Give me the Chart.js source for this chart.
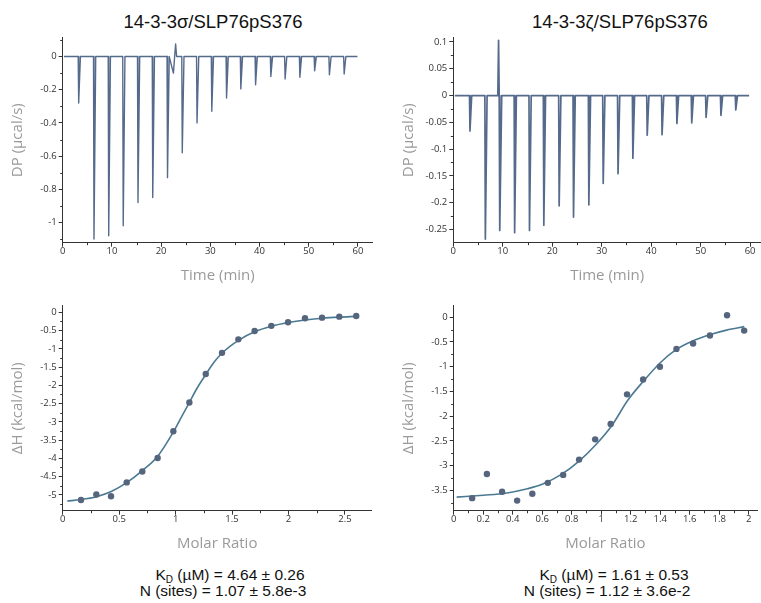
<!DOCTYPE html>
<html>
<head>
<meta charset="utf-8">
<script src="https://cdn.jsdelivr.net/npm/chart.js@4.4.1/dist/chart.umd.min.js"></script>
<style>
  body { margin: 0; background: #fff; }
  #page { position: relative; width: 761px; height: 603px; overflow: hidden; background: #fff; }
  canvas { position: absolute; }
  .title { position: absolute; top: 12px; font: 18.5px "Liberation Sans", Arial, sans-serif; line-height: 20px; color: #111; white-space: nowrap; transform: translateX(-50%); }
  .fit { position: absolute; font: 15.5px "Liberation Sans", Arial, sans-serif; line-height: 16px; color: #111; white-space: nowrap; transform: translateX(-50%); }
  .fit .sub { font-size: 10px; position: relative; top: 3px; }
</style>
</head>
<body>
<div id="page">
  <div class="title" style="left:213px">14-3-3σ/SLP76pS376</div>
  <div class="title" style="left:620px">14-3-3ζ/SLP76pS376</div>

  <canvas id="dpSigma" width="380" height="260" style="left:0;top:30px"></canvas>
  <canvas id="dpZeta" width="370" height="260" style="left:391px;top:30px"></canvas>
  <canvas id="dhSigma" width="380" height="260" style="left:0;top:298px"></canvas>
  <canvas id="dhZeta" width="370" height="260" style="left:391px;top:298px"></canvas>

  <div class="fit" style="left:230px;top:567px">K<span class="sub">D</span> (µM) = 4.64 ± 0.26</div>
  <div class="fit" style="left:223px;top:583px">N (sites) = 1.07 ± 5.8e-3</div>
  <div class="fit" style="left:614px;top:567px">K<span class="sub">D</span> (µM) = 1.61 ± 0.53</div>
  <div class="fit" style="left:607px;top:583px">N (sites) = 1.12 ± 3.6e-2</div>
</div>

<script>
// raw thermograms: injection times (min) and peak heights (µcal/s)
const sigmaInjTime = [3.25, 6.36, 9.35, 12.3, 15.3, 18.3, 21.3, 24.3, 27.3, 30.3, 33.3, 36.2, 39.2, 42.3, 45.2, 48.2, 51.2, 54.2, 57.2];
const sigmaInjDP = [-0.28, -1.10, -1.08, -1.02, -0.88, -0.85, -0.73, -0.58, -0.40, -0.33, -0.25, -0.195, -0.17, -0.12, -0.135, -0.125, -0.086, -0.11, -0.105];
const sigmaGlitch = [[22.5, -0.10], [22.75, 0], [22.95, 0.076], [23.15, 0]];
const sigmaRun = [0.25, 59.9];

const zetaInjTime = [3.37, 6.48, 9.44, 12.4, 15.4, 18.3, 21.4, 24.3, 27.4, 30.3, 33.3, 36.3, 39.2, 42.2, 45.2, 48.2, 51.1, 54.1, 57.1];
const zetaInjDP = [-0.066, -0.268, -0.252, -0.256, -0.252, -0.242, -0.206, -0.227, -0.204, -0.164, -0.146, -0.117, -0.074, -0.073, -0.052, -0.051, -0.041, -0.037, -0.027];
const zetaGlitch = [[9.0, 0], [9.15, 0.103], [9.28, 0]];
const zetaRun = [0.3, 59.8];

// integrated heats
const sigmaRatio = [0.162, 0.298, 0.428, 0.567, 0.705, 0.841, 0.980, 1.122, 1.267, 1.411, 1.556, 1.700, 1.848, 1.996, 2.146, 2.297, 2.450, 2.600];
const sigmaDH = [-5.14, -4.99, -5.04, -4.66, -4.36, -3.99, -3.26, -2.47, -1.69, -1.11, -0.74, -0.51, -0.37, -0.27, -0.16, -0.145, -0.118, -0.10];
const sigmaFitRatio = [0.04, 0.16, 0.3, 0.43, 0.57, 0.70, 0.84, 0.98, 1.05, 1.12, 1.19, 1.27, 1.34, 1.41, 1.56, 1.70, 1.85, 2.0, 2.15, 2.3, 2.45, 2.6];
const sigmaFitDH = [-5.17, -5.13, -5.05, -4.91, -4.66, -4.35, -3.95, -3.28, -2.88, -2.48, -2.08, -1.69, -1.37, -1.12, -0.76, -0.53, -0.38, -0.28, -0.21, -0.16, -0.13, -0.11];

const zetaRatio = [0.125, 0.225, 0.328, 0.430, 0.533, 0.638, 0.742, 0.850, 0.959, 1.064, 1.175, 1.284, 1.398, 1.510, 1.623, 1.737, 1.853, 1.969];
const zetaDH = [-3.66, -3.17, -3.53, -3.71, -3.57, -3.35, -3.19, -2.88, -2.47, -2.16, -1.56, -1.26, -1.00, -0.64, -0.53, -0.37, 0.04, -0.27];
const zetaFitRatio = [0.02, 0.2, 0.35, 0.5, 0.6, 0.73, 0.85, 0.96, 1.07, 1.18, 1.29, 1.40, 1.51, 1.62, 1.74, 1.85, 1.97];
const zetaFitDH = [-3.64, -3.60, -3.56, -3.47, -3.38, -3.18, -2.91, -2.59, -2.20, -1.68, -1.28, -0.92, -0.65, -0.48, -0.35, -0.26, -0.19];

// ticks
const timeTicks = [0, 10, 20, 30, 40, 50, 60];
const timeMinor = [5, 15, 25, 35, 45, 55];
const dpSigmaTicks = [0, -0.2, -0.4, -0.6, -0.8, -1];
const dpSigmaMinor = [0.1, -0.1, -0.3, -0.5, -0.7, -0.9, -1.1];
const dpZetaTicks = [0.1, 0.05, 0, -0.05, -0.1, -0.15, -0.2, -0.25];
const dpZetaMinor = [0.075, 0.025, -0.025, -0.075, -0.125, -0.175, -0.225];
const ratioSigmaTicks = [0, 0.5, 1, 1.5, 2, 2.5];
const ratioSigmaMinor = [0.25, 0.75, 1.25, 1.75, 2.25];
const ratioZetaTicks = [0, 0.2, 0.4, 0.6, 0.8, 1, 1.2, 1.4, 1.6, 1.8, 2];
const ratioZetaMinor = [0.1, 0.3, 0.5, 0.7, 0.9, 1.1, 1.3, 1.5, 1.7, 1.9];
const dhSigmaTicks = [0, -0.5, -1, -1.5, -2, -2.5, -3, -3.5, -4, -4.5, -5];
const dhSigmaMinor = [-0.25, -0.75, -1.25, -1.75, -2.25, -2.75, -3.25, -3.75, -4.25, -4.75, -5.25];
const dhZetaTicks = [0, -0.5, -1, -1.5, -2, -2.5, -3, -3.5];
const dhZetaMinor = [-0.25, -0.75, -1.25, -1.75, -2.25, -2.75, -3.25, -3.75];

const TRACE = '#566b8c';
const FIT = '#4a7a93';
const DOT = '#56657e';
const TICKFONT = { family: '"Open Sans", "Noto Sans", sans-serif', size: 9.5 };
const AXFONT = { family: '"Open Sans", "Noto Sans", sans-serif', size: 15 };

// trace = flat baseline with a sharp spike at every injection
function thermogram(run, times, dps, glitch) {
  const pts = [{ x: run[0], y: 0 }, { x: run[1], y: 0 }];
  times.forEach((t, i) => {
    pts.push({ x: t - 0.1, y: 0 }, { x: t, y: dps[i] }, { x: t + 0.35, y: 0 });
  });
  glitch.forEach(g => pts.push({ x: g[0], y: g[1] }));
  return pts.sort((a, b) => a.x - b.x);
}

function pairs(xs, ys) {
  return xs.map((x, i) => ({ x: x, y: ys[i] }));
}

const minorTicks = {
  id: 'minorTicks',
  afterDraw(chart, args, opts) {
    const ctx = chart.ctx;
    const xs = chart.scales.x, ys = chart.scales.y;
    ctx.save();
    ctx.strokeStyle = '#333';
    ctx.lineWidth = 1;
    ctx.beginPath();
    (opts.x || []).forEach(v => {
      const p = Math.round(xs.getPixelForValue(v)) + 0.5;
      ctx.moveTo(p, xs.top);
      ctx.lineTo(p, xs.top + 2.5);
    });
    (opts.y || []).forEach(v => {
      const p = Math.round(ys.getPixelForValue(v)) + 0.5;
      ctx.moveTo(ys.right, p);
      ctx.lineTo(ys.right - 2.5, p);
    });
    ctx.stroke();
    ctx.restore();
  }
};

function axis(min, max, majors, title) {
  return {
    type: 'linear',
    min: min,
    max: max,
    afterBuildTicks: s => { s.ticks = majors.map(v => ({ value: v })); },
    ticks: { autoSkip: false, maxRotation: 0, color: '#333', font: TICKFONT, callback: v => String(v) },
    grid: { drawOnChartArea: false, drawTicks: true, tickLength: 4, tickColor: '#333', lineWidth: 1 },
    border: { display: true, color: '#333', width: 1 },
    title: { display: true, text: title, color: '#9a9a9a', font: AXFONT }
  };
}

function makeChart(id, datasets, x, y, minor, padRight, yWidth) {
  x.afterFit = s => { s.height = 47.3; };
  x.ticks.padding = -1;
  x.title.padding = { top: 0, bottom: 5 };
  y.afterFit = s => { s.width = yWidth; };
  y.ticks.padding = 2;
  y.title.padding = { top: 9, bottom: 0 };
  return new Chart(document.getElementById(id), {
    type: 'line',
    data: { datasets: datasets },
    options: {
      responsive: false,
      animation: false,
      layout: { padding: { top: 6, right: padRight, left: 0, bottom: 0 } },
      scales: { x: x, y: y },
      plugins: { legend: { display: false }, tooltip: { enabled: false }, minorTicks: minor }
    },
    plugins: [minorTicks]
  });
}

makeChart('dpSigma', [{
    data: thermogram(sigmaRun, sigmaInjTime, sigmaInjDP, sigmaGlitch),
    borderColor: TRACE, borderWidth: 1.4, borderJoinStyle: 'round', pointRadius: 0, tension: 0
  }],
  axis(0, 63, timeTicks, 'Time (min)'),
  axis(-1.122, 0.1136, dpSigmaTicks, 'DP (µcal/s)'),
  { x: timeMinor, y: dpSigmaMinor }, 7.3, 62.7);

makeChart('dpZeta', [{
    data: thermogram(zetaRun, zetaInjTime, zetaInjDP, zetaGlitch),
    borderColor: TRACE, borderWidth: 1.7, borderJoinStyle: 'round', pointRadius: 0, tension: 0
  }],
  axis(0, 62.2, timeTicks, 'Time (min)'),
  axis(-0.2748, 0.108, dpZetaTicks, 'DP (µcal/s)'),
  { x: timeMinor, y: dpZetaMinor }, 0, 62.3);

makeChart('dhSigma', [
    { data: pairs(sigmaRatio, sigmaDH), showLine: false, pointRadius: 3.2, pointBackgroundColor: DOT, pointBorderWidth: 0, order: 0 },
    { data: pairs(sigmaFitRatio, sigmaFitDH), borderColor: FIT, borderWidth: 1.6, pointRadius: 0, cubicInterpolationMode: 'monotone', order: 1 }
  ],
  axis(0, 2.737, ratioSigmaTicks, 'Molar Ratio'),
  axis(-5.435, 0.182, dhSigmaTicks, 'ΔH (kcal/mol)'),
  { x: ratioSigmaMinor, y: dhSigmaMinor }, 8.3, 62.7);

makeChart('dhZeta', [
    { data: pairs(zetaRatio, zetaDH), showLine: false, pointRadius: 3.2, pointBackgroundColor: DOT, pointBorderWidth: 0, order: 0 },
    { data: pairs(zetaFitRatio, zetaFitDH), borderColor: FIT, borderWidth: 1.6, pointRadius: 0, cubicInterpolationMode: 'monotone', order: 1 }
  ],
  axis(0, 2.056, ratioZetaTicks, 'Molar Ratio'),
  axis(-3.914, 0.234, dhZetaTicks, 'ΔH (kcal/mol)'),
  { x: ratioZetaMinor, y: dhZetaMinor }, 0, 62.7);
</script>
</body>
</html>
